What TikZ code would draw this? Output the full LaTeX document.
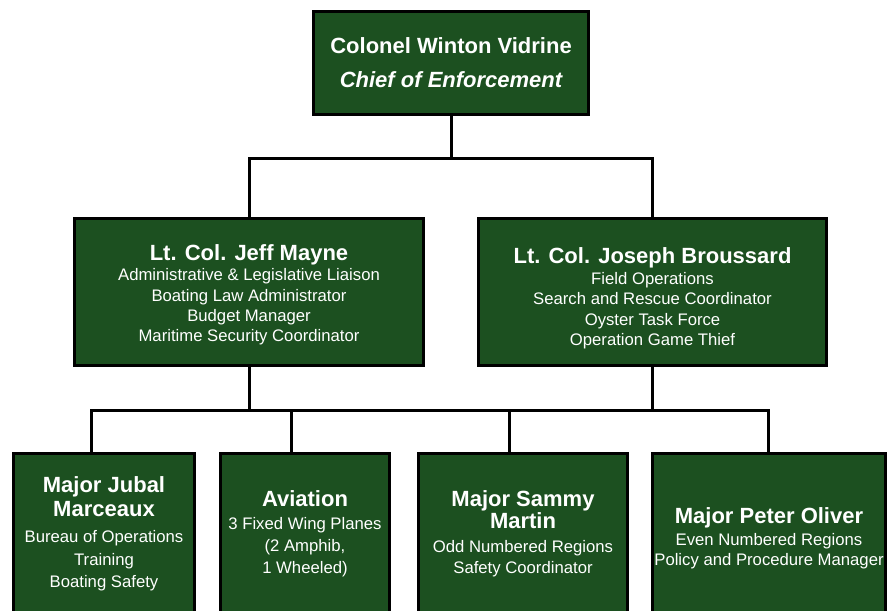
\documentclass[tikz,border=0pt]{standalone}
\usepackage{fontspec}
\setmainfont{Liberation Sans}
\definecolor{boxgreen}{RGB}{28,80,32}
\tikzset{
  box/.style={draw=black, line width=3pt, fill=boxgreen, inner sep=0pt},
  conn/.style={draw=black, line width=3pt},
  hd/.style={text=white, anchor=base, inner sep=0pt, font=\fontsize{22}{26}\selectfont\bfseries},
  hdit/.style={hd, font=\fontsize{22}{26}\selectfont\bfseries\itshape},
  sb/.style={text=white, anchor=base, inner sep=0pt, font=\fontsize{16.7}{20}\selectfont},
}
\begin{document}
\begin{tikzpicture}[x=1pt,y=-1pt]
\clip (0,0) rectangle (888,610);
\fill[white] (0,0) rectangle (888,610);
% boxes
\node[box, minimum width=275pt, minimum height=103pt] (top) at (451,63) {};
\node[box, minimum width=349pt, minimum height=147pt] (ml) at (249,292) {};
\node[box, minimum width=348pt, minimum height=147pt] (mr) at (652.5,292) {};
\node[box, minimum width=181pt, minimum height=171.5pt] (b1) at (104,539.25) {};
\node[box, minimum width=169pt, minimum height=171.5pt] (b2) at (305,539.25) {};
\node[box, minimum width=209pt, minimum height=171.5pt] (b3) at (523,539.25) {};
\node[box, minimum width=233pt, minimum height=171.5pt] (b4) at (769,539.25) {};
% junction coordinates
\coordinate (bar1) at (0,158);
\coordinate (bar2) at (0,410);
\coordinate (c1) at (91,0);
\coordinate (c2) at (291,0);
\coordinate (c3) at (509,0);
\coordinate (c4) at (768,0);
% connectors
\draw[conn] (top.south) -- (top.south |- bar1);
\draw[conn] (ml.north) -- (ml.north |- bar1) -- (mr.north |- bar1) -- (mr.north);
\draw[conn] (ml.south) -- (ml.south |- bar2);
\draw[conn] (mr.south) -- (mr.south |- bar2);
\draw[conn] (b1.north -| c1) -- (bar2 -| c1) -- (bar2 -| c4) -- (b4.north -| c4);
\draw[conn] (b2.north -| c2) -- (bar2 -| c2);
\draw[conn] (b3.north -| c3) -- (bar2 -| c3);
% top text
\node[hd] (t1) at (451,53) {Colonel Winton Vidrine};
\node[hdit] (t2) at (451,87) {Chief of Enforcement};
% middle left
\node[hd] (l1) at (249,260.7) {Lt. Col. Jeff Mayne};
\node[sb] (l2) at (249,280.7) {Administrative \& Legislative Liaison};
\node[sb] (l3) at (249,301) {Boating Law Administrator};
\node[sb] (l4) at (249,321.5) {Budget Manager};
\node[sb] (l5) at (249,341.7) {Maritime Security Coordinator};
% middle right
\node[hd] (r1) at (652.5,263.3) {Lt. Col. Joseph Broussard};
\node[sb] (r2) at (652.5,284) {Field Operations};
\node[sb] (r3) at (652.5,304.3) {Search and Rescue Coordinator};
\node[sb] (r4) at (652.5,325) {Oyster Task Force};
\node[sb] (r5) at (652.5,345) {Operation Game Thief};
% bottom 1
\node[hd] (a1) at (104,492.7) {Major Jubal};
\node[hd] (a2) at (104,516) {Marceaux};
\node[sb] (a3) at (104,542.7) {Bureau of Operations};
\node[sb] (a4) at (104,565) {Training};
\node[sb] (a5) at (104,587.7) {Boating Safety};
% bottom 2
\node[hd] (v1) at (305,506.7) {Aviation};
\node[sb] (v2) at (305,529.3) {3 Fixed Wing Planes};
\node[sb] (v3) at (305,551.5) {(2 Amphib,};
\node[sb] (v4) at (305,573.3) {1 Wheeled)};
% bottom 3
\node[hd] (s1) at (523,506.7) {Major Sammy};
\node[hd] (s2) at (523,528.3) {Martin};
\node[sb] (s3) at (523,552.3) {Odd Numbered Regions};
\node[sb] (s4) at (523,573.3) {Safety Coordinator};
% bottom 4
\node[hd] (p1) at (769,523.3) {Major Peter Oliver};
\node[sb] (p2) at (769,545) {Even Numbered Regions};
\node[sb] (p3) at (769,565) {Policy and Procedure Manager};
\end{tikzpicture}
\end{document}
